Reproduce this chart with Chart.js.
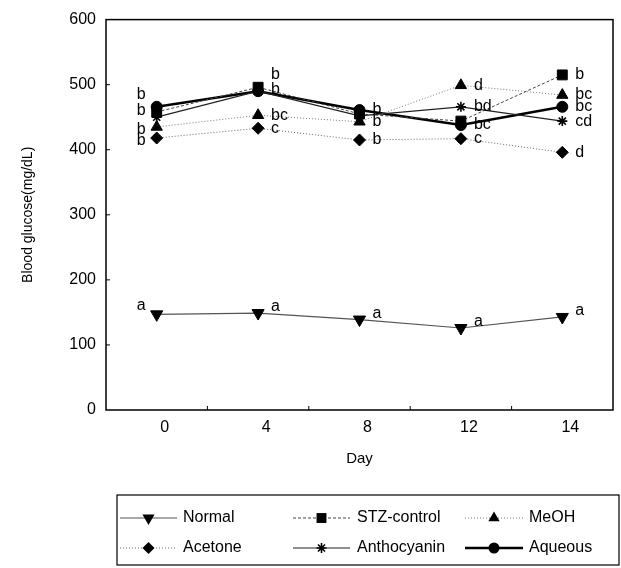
<!DOCTYPE html>
<html>
<head>
<meta charset="utf-8">
<script src="https://cdn.jsdelivr.net/npm/chart.js@4.4.0/dist/chart.umd.min.js"></script>
<style>
  html, body { margin: 0; padding: 0; background: #fff; }
</style>
</head>
<body>
<canvas id="c" width="621" height="568"></canvas>
<script>
const days = ["0", "4", "8", "12", "14"];

const normal = [147, 149, 139, 126, 143];
const stzControl = [458, 496, 455, 444, 515];
const meoh = [435, 453, 443, 499, 484];
const acetone = [418, 433, 415, 417, 396];
const anthocyanin = [450, 490, 452, 466, 444];
const aqueous = [466, 490, 461, 438, 466];

// significance letters per group and day
const normalSig = ["a", "a", "a", "a", "a"];
const stzSig = ["b", "b", "", "", "b"];
const meohSig = ["b", "bc", "b", "d", "bc"];
const acetoneSig = ["b", "c", "b", "c", "d"];
const anthoSig = ["", "", "", "bd", "cd"];
const aqueousSig = ["b", "b", "b", "bc", "bc"];

const FONT = "'Liberation Sans', Arial, sans-serif";

function mark(ctx, style, x, y, r, rot) {
    ctx.beginPath();
    if (style === "circle") {
        ctx.arc(x, y, r, 0, Math.PI * 2);
    } else if (style === "rect") {
        const s = r * Math.SQRT1_2;
        ctx.rect(x - s, y - s, 2 * s, 2 * s);
    } else if (style === "rectRot") {
        ctx.moveTo(x, y - r); ctx.lineTo(x + r, y); ctx.lineTo(x, y + r); ctx.lineTo(x - r, y);
        ctx.closePath();
    } else if (style === "triangle") {
        let a = (rot || 0) * Math.PI / 180;
        for (let k = 0; k < 3; k++) {
            const px = x + Math.sin(a) * r, py = y - Math.cos(a) * r;
            if (k === 0) ctx.moveTo(px, py); else ctx.lineTo(px, py);
            a += Math.PI * 2 / 3;
        }
        ctx.closePath();
    } else if (style === "star") {
        for (let k = 0; k < 4; k++) {
            const a = k * Math.PI / 4;
            ctx.moveTo(x - Math.cos(a) * r, y - Math.sin(a) * r);
            ctx.lineTo(x + Math.cos(a) * r, y + Math.sin(a) * r);
        }
        ctx.stroke();
        return;
    }
    ctx.fill();
}

const frame = {
    id: "frame",
    afterDatasetsDraw(chart) {
        const { ctx, chartArea: a, scales } = chart;
        ctx.save();
        ctx.strokeStyle = "#000";
        ctx.lineWidth = 1.5;
        ctx.strokeRect(a.left, a.top, a.right - a.left, a.bottom - a.top);
        ctx.lineWidth = 1;
        ctx.beginPath();
        for (let v = 100; v < 600; v += 100) {
            const y = scales.y.getPixelForValue(v);
            ctx.moveTo(a.left, y); ctx.lineTo(a.left + 4, y);
        }
        const step = (a.right - a.left) / days.length;
        for (let k = 1; k < days.length; k++) {
            const x = a.left + step * k;
            ctx.moveTo(x, a.bottom); ctx.lineTo(x, a.bottom - 4);
        }
        ctx.stroke();
        ctx.restore();
    }
};

// small vertical nudges for crowded letters: "dataset:day" -> px
const nudge = { "5:0": -12, "1:1": -13, "5:1": -2, "1:0": -1, "2:0": 3, "3:0": 3 };

const sigLetters = {
    id: "sigLetters",
    afterDatasetsDraw(chart) {
        const ctx = chart.ctx;
        ctx.save();
        ctx.fillStyle = "#000";
        ctx.font = "16px " + FONT;
        ctx.textBaseline = "middle";
        chart.data.datasets.forEach((ds, i) => {
            const pts = chart.getDatasetMeta(i).data;
            ds.sig.forEach((s, j) => {
                if (!s) return;
                const p = pts[j];
                let dy = nudge[i + ":" + j] || 0;
                if (i === 0) dy = j === 0 ? -9 : -6;
                if (j === 0) {
                    ctx.textAlign = "right";
                    ctx.fillText(s, p.x - 11, p.y + dy);
                } else {
                    ctx.textAlign = "left";
                    ctx.fillText(s, p.x + 13, p.y + dy);
                }
            });
        });
        ctx.restore();
    }
};

const boxLegend = {
    id: "boxLegend",
    afterDraw(chart) {
        const ctx = chart.ctx;
        const cols = [{ x1: 120, x2: 177, t: 183 }, { x1: 293, x2: 350, t: 357 }, { x1: 465, x2: 523, t: 529 }];
        const rows = [518, 548];
        ctx.save();
        ctx.strokeStyle = "#000";
        ctx.lineWidth = 1.2;
        ctx.strokeRect(117, 495, 502, 70);
        ctx.font = "16px " + FONT;
        ctx.textBaseline = "middle";
        ctx.textAlign = "left";
        chart.data.datasets.forEach((ds, i) => {
            const c = cols[i % 3], y = rows[Math.floor(i / 3)];
            ctx.save();
            ctx.strokeStyle = ds.borderColor;
            ctx.lineWidth = ds.borderWidth;
            ctx.setLineDash(ds.borderDash || []);
            ctx.beginPath();
            ctx.moveTo(c.x1, y); ctx.lineTo(c.x2, y);
            ctx.stroke();
            ctx.setLineDash([]);
            ctx.fillStyle = "#000";
            ctx.strokeStyle = "#000";
            ctx.lineWidth = ds.pointBorderWidth;
            mark(ctx, ds.pointStyle, (c.x1 + c.x2) / 2, y, ds.pointRadius, ds.pointRotation);
            ctx.restore();
            ctx.fillStyle = "#000";
            ctx.fillText(ds.label, c.t, y);
        });
        ctx.restore();
    }
};

function series(label, data, sig, style, extra) {
    return Object.assign({
        label: label,
        data: data,
        sig: sig,
        pointStyle: style,
        pointBackgroundColor: "#000",
        pointBorderColor: "#000",
        pointBorderWidth: 1,
        borderColor: "#333",
        borderWidth: 1,
        tension: 0,
        fill: false
    }, extra);
}

new Chart(document.getElementById("c"), {
    type: "line",
    data: {
        labels: days,
        datasets: [
            series("Normal", normal, normalSig, "triangle", { pointRadius: 7, pointRotation: 180, borderColor: "#555", borderWidth: 1.2 }),
            series("STZ-control", stzControl, stzSig, "rect", { pointRadius: 7, borderColor: "#444", borderDash: [3, 2] }),
            series("MeOH", meoh, meohSig, "triangle", { pointRadius: 6.5, borderColor: "#777", borderDash: [1, 2] }),
            series("Acetone", acetone, acetoneSig, "rectRot", { pointRadius: 6, borderColor: "#666", borderDash: [1, 2] }),
            series("Anthocyanin", anthocyanin, anthoSig, "star", { pointRadius: 5, pointBorderWidth: 1.6, borderColor: "#222", borderWidth: 1.2 }),
            series("Aqueous", aqueous, aqueousSig, "circle", { pointRadius: 5.5, borderColor: "#000", borderWidth: 2.5 })
        ]
    },
    options: {
        responsive: false,
        animation: false,
        layout: { padding: { left: 0, right: 6, top: 17, bottom: 73 } },
        plugins: { legend: { display: false }, tooltip: { enabled: false } },
        scales: {
            x: {
                offset: true,
                grid: { display: false, drawTicks: false },
                border: { display: false },
                ticks: { color: "#000", font: { family: FONT, size: 16 }, padding: 8, labelOffset: 8 },
                title: { display: true, text: "Day", color: "#000", font: { family: FONT, size: 15 }, padding: { top: 4, bottom: 27 } },
                afterFit(s) { s.height = 85; }
            },
            y: {
                min: 0,
                max: 600,
                grid: { display: false, drawTicks: false },
                border: { display: false },
                ticks: { stepSize: 100, color: "#000", font: { family: FONT, size: 16 }, padding: 10 },
                title: { display: true, text: "Blood glucose(mg/dL)", color: "#000", font: { family: FONT, size: 14 }, padding: { top: 20, bottom: 0 } },
                afterFit(s) { s.width = 106; }
            }
        }
    },
    plugins: [frame, sigLetters, boxLegend]
});
</script>
</body>
</html>
